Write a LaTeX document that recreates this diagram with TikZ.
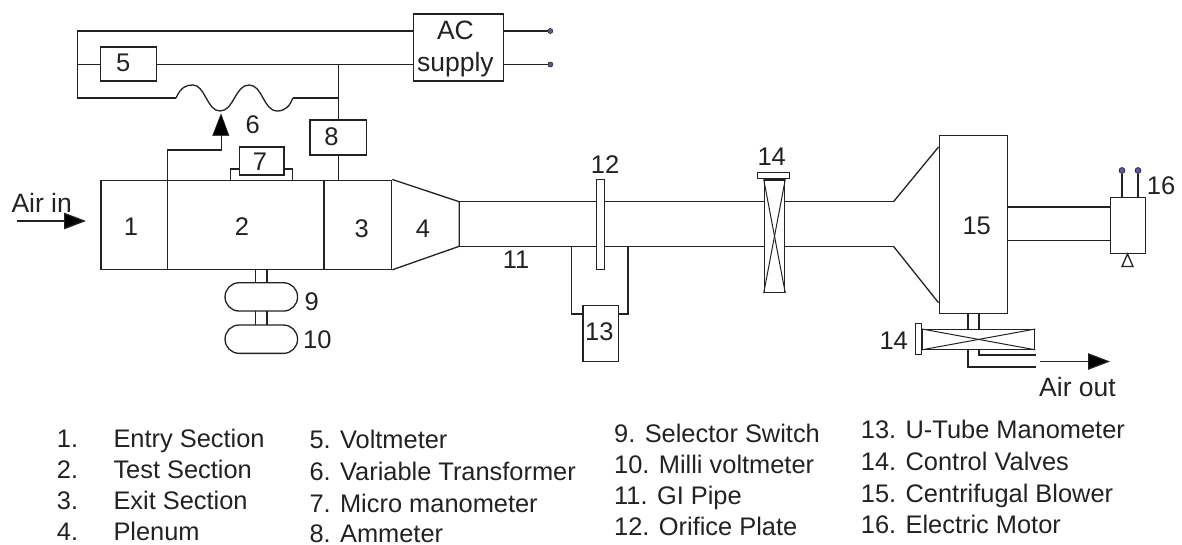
\documentclass[tikz,border=0pt]{standalone}
\usepackage{fontspec}
\setmainfont{Liberation Sans}
\usetikzlibrary{arrows.meta}
\definecolor{ink}{HTML}{222222}
\definecolor{pin}{HTML}{5A5AA0}
\tikzset{
  ln/.style={draw=ink,line width=1.3pt,line join=miter},
  thin ln/.style={draw=ink,line width=1pt},
  boxn/.style={ln,rectangle,inner sep=0pt,minimum width=#1},
  lbl/.style={text=ink,inner sep=0pt,font=\fontsize{25.5}{25.5}\selectfont},
  small/.style={text=ink,inner sep=0pt,font=\fontsize{26.5}{26.5}\selectfont},
  item/.style={text=ink,inner sep=0pt,anchor=base west,font=\fontsize{25.4}{25.4}\selectfont},
  term/.style={circle,draw=ink,fill=pin,line width=.6pt,inner sep=0pt,minimum size=#1},
  flow/.style={draw=ink,line width=1.2pt,-{Triangle[length=22pt,width=16.5pt,fill=black]}},
}
\begin{document}
\begin{tikzpicture}[x=1pt,y=-1pt]
\useasboundingbox (0,0) rectangle (1182,544);
% electrical
\node[boxn=89.9,minimum height=67] (ac) at (458.65,47.5) {};
\node[small] (acA) at (455.4,30) {AC};
\node[small] (acB) at (455.4,65) {supply};
\node[boxn=56.2,minimum height=34] (v5) at (128.4,64) {};
\node[lbl] (l5) at (123.2,63) {5};
\node[boxn=56.2,minimum height=35] (a8) at (338.1,137.5) {};
\node[lbl] (l8) at (331.4,137) {8};
\node[term=5] (t1) at (550.3,31) {};
\node[term=5] (t2) at (550.3,64.5) {};
\coordinate (lt) at (77.7,31);
\coordinate (lm) at (77.7,64.5);
\coordinate (lb) at (77.7,98);
\coordinate (wa) at (176,98);
\coordinate (wb) at (292.8,98);
\coordinate (jb) at (338.7,98);
\coordinate (jm) at (338.7,64.5);
\draw[ln] (ac.west |- lt) -- (lt) -- (lb) -- (wa);
\draw[ln] (lm) -- (v5.west |- lm);
\draw[ln] (v5.east |- lm) -- (ac.west |- lm);
\draw[ln] (wb) -- (jb);
\draw[ln] (jm) -- (a8.north -| jm);
\draw[ln] (t1) -- (ac.east |- t1);
\draw[ln] (t2) -- (ac.east |- t2);
\draw[ln] (wa) .. controls (181,87) and (186,85) .. (193,85)
  .. controls (205,85) and (207,111) .. (220,111)
  .. controls (234,111) and (235,85) .. (249,85)
  .. controls (263,85) and (263,111) .. (277.5,111)
  .. controls (285,111) and (290,106) .. (wb);
% test rig body
\node[boxn=290.7,minimum height=89,anchor=north west] (body) at (100.3,179.5) {};
\coordinate (d1t) at (167.2,179.5); \coordinate (d1b) at (167.2,268.5);
\coordinate (d2t) at (324.1,179.5); \coordinate (d2b) at (324.1,268.5);
\draw[ln] (d1t) -- (d1b);
\draw[ln] (d2t) -- (d2b);
\draw[ln] (a8.south -| jm) -- (jm |- body.north);
\coordinate (trt) at (459.2,201.7); \coordinate (trb) at (459.2,246.3);
\draw[ln] (body.north east) -- (trt) -- (trb) -- (body.south east);
% variable transformer tap
\coordinate (tip) at (221,114);
\draw[ln] (d1t) -- (167.2,150) -- (221.2,150) -- (221.2,135);
\draw[ink,fill=black] (tip) -- (229,135.7) -- (212.6,135.7) -- cycle;
\node[lbl] (l6) at (252.6,125) {6};
% micro manometer
\draw[ln] (230.8,179.5) -- (230.8,169) -- (292.4,169) -- (292.4,179.5);
\node[boxn=44.8,minimum height=28,fill=white] (m7) at (261.6,161) {};
\node[lbl] (l7) at (260,162) {7};
\node[lbl] (l1) at (130.9,227) {1};
\node[lbl] (l2) at (241.9,227) {2};
\node[lbl] (l3) at (361.6,229) {3};
\node[lbl] (l4) at (422.9,229) {4};
% air in
\node[small] (airin) at (41.7,203) {Air in};
\coordinate (ai0) at (16.8,221); \coordinate (ai1) at (86,221);
\draw[flow] (ai0) -- (ai1);
% selector and millivoltmeter
\node[boxn=72.5,minimum height=28.3,rounded corners=14pt] (c9) at (261.3,296.9) {};
\node[boxn=72.5,minimum height=28.3,rounded corners=14pt] (c10) at (261.3,339.2) {};
\draw[ln] (255.7,268.5) -- (255.7,282.7);
\draw[ln] (267,268.5) -- (267,282.7);
\draw[ln] (255.7,311) -- (255.7,325);
\draw[ln] (267,311) -- (267,325);
\node[lbl] (l9) at (311.7,301.7) {9};
\node[lbl] (l10) at (317.3,340) {10};
% pipe
\node[boxn=8.5,minimum height=90,fill=white,anchor=north west] (p12) at (595.5,179) {};
\node[boxn=20.3,minimum height=112.5,anchor=north west] (v14) at (763.7,179.3) {};
\node[boxn=32,minimum height=6,anchor=south] (h14) at (773.3,179.4) {};
\draw[thin ln] (v14.north west) -- (v14.south east);
\draw[thin ln] (v14.north east) -- (v14.south west);
\coordinate (ptl) at (893.5,201.7); \coordinate (pbl) at (893.5,246.3);
\draw[ln] (trt) -- (p12.west |- trt);
\draw[ln] (trb) -- (p12.west |- trb);
\draw[ln] (p12.east |- trt) -- (v14.west |- trt);
\draw[ln] (p12.east |- trb) -- (v14.west |- trb);
\draw[ln] (v14.east |- trt) -- (ptl);
\draw[ln] (v14.east |- trb) -- (pbl);
\node[lbl] (l11) at (516,260) {11};
\node[lbl] (l12) at (605,165) {12};
\node[lbl] (l14a) at (771.7,157) {14};
% U tube
\node[boxn=35.4,minimum height=56,anchor=north west] (u13) at (582.3,305) {};
\coordinate (ua) at (571.7,246.3); \coordinate (ub) at (628,246.3);
\draw[ln] (ua) -- (ua |- 0,314) -- (u13.west |- 0,314);
\draw[ln] (ub) -- (ub |- 0,314) -- (u13.east |- 0,314);
\node[lbl] (l13) at (599.3,331.7) {13};
% blower
\node[boxn=68,minimum height=178.5,anchor=north west] (b15) at (938.5,134.5) {};
\draw[ln] (ptl) -- (938.5,147);
\draw[ln] (pbl) -- (938.5,302.7);
\node[lbl] (l15) at (976.7,226) {15};
% motor
\node[boxn=35,minimum height=56,anchor=north west] (m16) at (1110,196.5) {};
\draw[ln] (1006.5,207) -- (m16.west |- 0,207);
\draw[ln] (1006.5,240.5) -- (m16.west |- 0,240.5);
\coordinate (tri) at (1127.5,254);
\draw[ln] (tri) -- (1133,266.5) -- (1122,266.5) -- cycle;
\node[term=6] (p1) at (1122,170.5) {};
\node[term=6] (p2) at (1138,170.5) {};
\draw[ln] (p1) -- (p1 |- m16.north);
\draw[ln] (p2) -- (p2 |- m16.north);
\node[lbl] (l16) at (1161,185.7) {16};
% lower valve
\node[boxn=112,minimum height=19.5,anchor=north west] (v14b) at (922,329) {};
\node[boxn=6,minimum height=31.5,anchor=north east] (h14b) at (922,322.5) {};
\draw[thin ln] (v14b.north west) -- (v14b.south east);
\draw[thin ln] (v14b.north east) -- (v14b.south west);
\draw[ln] (968,313) -- (968,329);
\draw[ln] (979,313) -- (979,329);
\coordinate (oa) at (1036,367); \coordinate (ob) at (1036,355);
\draw[ln] (968,348.5) -- (968,367) -- (oa);
\draw[ln] (979,348.5) -- (979,355) -- (ob);
\coordinate (ao0) at (1040,361.5); \coordinate (ao1) at (1110,361.5);
\draw[flow] (ao0) -- (ao1);
\node[small] (airout) at (1077.5,387) {Air out};
\node[lbl] (l14b) at (893.7,341) {14};
% legend
\node[item] (n1) at (56.7,447) {1.}; \node[item] (e1) at (113.3,447) {Entry Section};
\node[item] (n2) at (56.7,478) {2.}; \node[item] (e2) at (113.3,478) {Test Section};
\node[item] (n3) at (56.7,509) {3.}; \node[item] (e3) at (113.3,509) {Exit Section};
\node[item] (n4) at (56.7,540) {4.}; \node[item] (e4) at (113.3,540) {Plenum};
\node[item] (e5) at (309.3,448) {5. Voltmeter};
\node[item] (e6) at (309.3,480) {6. Variable Transformer};
\node[item] (e7) at (309.3,512) {7. Micro manometer};
\node[item] (e8) at (309.3,542) {8. Ammeter};
\node[item] (e9) at (614,442) {9. Selector Switch};
\node[item] (e10) at (614,473) {10. Milli voltmeter};
\node[item] (e11) at (614,504) {11. GI Pipe};
\node[item] (e12) at (614,535) {12. Orifice Plate};
\node[item] (e13) at (860.7,438) {13. U-Tube Manometer};
\node[item] (e14) at (860.7,470) {14. Control Valves};
\node[item] (e15) at (860.7,502) {15. Centrifugal Blower};
\node[item] (e16) at (860.7,533) {16. Electric Motor};
\end{tikzpicture}
\end{document}
